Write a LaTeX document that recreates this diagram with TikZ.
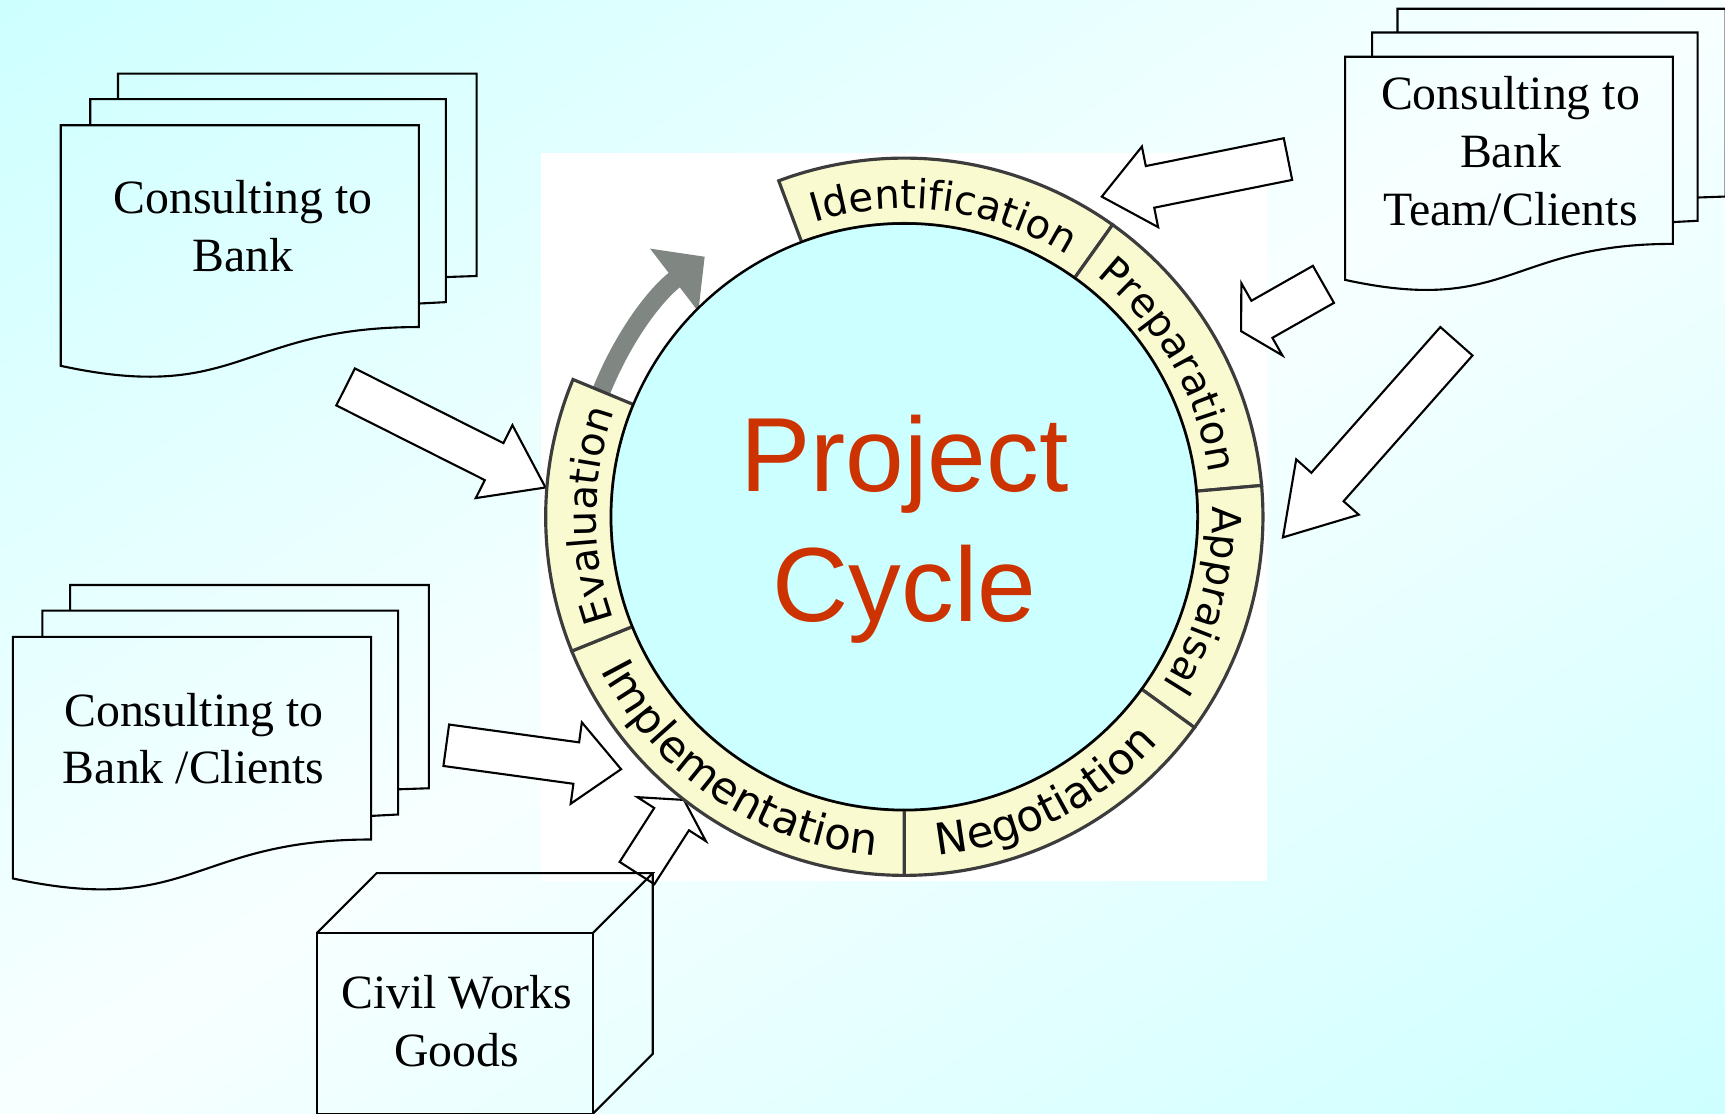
\documentclass[tikz,border=0pt]{standalone}
\usepackage{fontspec}
\setmainfont{Liberation Serif}
\newfontfamily\ringfont{DejaVu Sans}
\newfontfamily\titlefont{Liberation Sans}
\usetikzlibrary{shapes.arrows,decorations.text,arrows.meta}

\newlength{\pxl}
\setlength{\pxl}{0.011cm}

\definecolor{bgcyan}{RGB}{204,255,255}
\definecolor{bgpale}{RGB}{248,255,255}
\definecolor{hubcyan}{RGB}{204,255,255}
\definecolor{ringyellow}{RGB}{250,250,208}
\definecolor{ringedge}{RGB}{60,60,60}
\definecolor{cyclegray}{RGB}{128,135,131}
\definecolor{titlered}{RGB}{204,51,0}

\tikzset{
  docline/.style={draw=black, line width=0.6pt},
  doctext/.style={align=center, inner sep=0pt, font=\fontsize{13.6}{16.4}\selectfont},
  blockarrow/.style n args={4}{shape=single arrow, draw=black, fill=white, line width=0.6pt,
    inner xsep=0pt, inner ysep=#2/2*\pxl, anchor=tail, minimum height=#1*\pxl, minimum width=#3*\pxl,
    single arrow head extend={(#3-#2)/2*\pxl}, single arrow tip angle=#4},
  ringseg/.style={fill=ringyellow, draw=ringedge, line width=0.9pt},
  hub/.style={fill=hubcyan, draw=black, line width=0.7pt},
  cwlabel/.style={decorate, decoration={text along path, text align=center,
    text={|\ringfont\fontsize{11.4}{13}\selectfont|#1}}},
  ccwlabel/.style={decorate, decoration={text along path, text align=center,
    text={|\ringfont\fontsize{12.4}{14}\selectfont|#1}}},
}

% stack of three sheets, unit box scaled to the stack
\newcommand{\multidoc}[3]{%
  \begin{scope}[shift={#1}, xscale=#2, yscale=#3]
    \draw[docline] (0,0.0379) .. controls (0.4305,-0.0899) and (0.4305,0.1656) .. (0.8609,0.1656)
      -- (0.8609,0.8299) -- (0,0.8299) -- cycle;
    \draw[docline] (0.0709,0.8299) -- (0.0709,0.9160) -- (0.9259,0.9160) -- (0.9259,0.2476)
      .. controls (0.8934,0.2476) .. (0.8609,0.2430);
    \draw[docline] (0.1376,0.9160) -- (0.1376,1) -- (1,1) -- (1,0.3337)
      .. controls (0.963,0.3337) .. (0.9259,0.3302);
  \end{scope}}

\begin{document}
\begin{tikzpicture}[x=0.011cm, y=0.011cm]
  \useasboundingbox (0,0) rectangle (1568,1011.7);
  \clip (0,0) rectangle (1568,1011.7);
  % diagonal background, cyan in two corners
  \begin{scope}[transform canvas={shift={(784,506)}, rotate=32.8}]
  \shade[top color=bgcyan, bottom color=bgcyan, middle color=bgpale] (-1000,-880) rectangle (1000,880);
  \end{scope}
  \fill[white] (492,211) rectangle (1152,873);

  % block arrows into the cycle
  \node[blockarrow={203.4}{35.7}{72.3}{70.7}, rotate=-26.7] (arrEval) at (313.3,660.4) {};
  \node[blockarrow={172.7}{36.7}{72.8}{79.7}, rotate=191.4] (arrIdent) at (1171.7,867.3) {};
  \node[blockarrow={86.1}{36.8}{73.6}{120.1}, rotate=209.6] (arrPrep) at (1203.8,753.7) {};
  \node[blockarrow={238}{37.1}{74}{63.7}, rotate=228.5] (arrAppr) at (1324.5,702.2) {};
  \node[blockarrow={160.4}{36.1}{72.8}{84.5}, rotate=-7.8] (arrImpl) at (404.7,334.4) {};
  \node[blockarrow={79}{35.6}{72.1}{121.4}, rotate=57.3] (arrGoods) at (578.5,217.3) {};

  \begin{scope}[shift={(822,542)}]
  \draw[cyclegray, line width=5.2pt, -{Triangle[width=0.77cm,length=0.385cm]}]
    (165:298) arc[start angle=165, end angle=127.5, radius=298];
  \foreach \a/\b in {110.5/54.5, 54.5/5, 5/-36, -36/-90, -90/-158, -158/-202.5}
    \draw[ringseg] (\a:266.5) -- (\a:326) arc[start angle=\a, end angle=\b, radius=326]
      -- (\b:266.5) arc[start angle=\b, end angle=\a, radius=266.5] -- cycle;
  \draw[hub] (0,0) circle[radius=266.5];
  \path[cwlabel=Identification] (110.5:280) arc[start angle=110.5, end angle=54.5, radius=280];
  \path[cwlabel=Preparation] (54.5:280) arc[start angle=54.5, end angle=5, radius=280];
  \path[cwlabel=Appraisal] (5:280) arc[start angle=5, end angle=-36, radius=280];
  \path[cwlabel=Evaluation] (-158:280) arc[start angle=-158, end angle=-202.5, radius=280];
  \path[ccwlabel=Implementation] (-158:309) arc[start angle=-158, end angle=-90, radius=309];
  \path[ccwlabel=Negotiation] (-90:309) arc[start angle=-90, end angle=-36, radius=309];
  \end{scope}
  \node[font=\titlefont\fontsize{30}{37}\selectfont, text=titlered, align=center, inner sep=0pt]
    (title) at (822,530.4) {Project\\Cycle};

  % document stacks
  \multidoc{(55.2,668.7)}{378.1}{276.1}
  \multidoc{(11.7,202.7)}{378.2}{277.2}
  \multidoc{(1222.7,747.6)}{346}{256.1}
  \node[doctext] (bankdoc) at (220.7,806.3) {Consulting to\\Bank};
  \node[doctext] (clientdoc) at (176.1,340.2) {Consulting to\\Bank /Clients};
  \node[doctext] (teamdoc) at (1373,874.3) {Consulting to\\Bank\\Team/Clients};

  % goods box
  \draw[docline] (287.9,-0.7) rectangle (538.8,163.5);
  \draw[docline] (287.9,163.5) -- (342.4,218.1) -- (593.3,218.1) -- (538.8,163.5);
  \draw[docline] (593.3,218.1) -- (593.3,53.8) -- (538.8,-0.7);
  \node[doctext] (goods) at (415.2,83.6) {Civil Works\\Goods};
\end{tikzpicture}
\end{document}
